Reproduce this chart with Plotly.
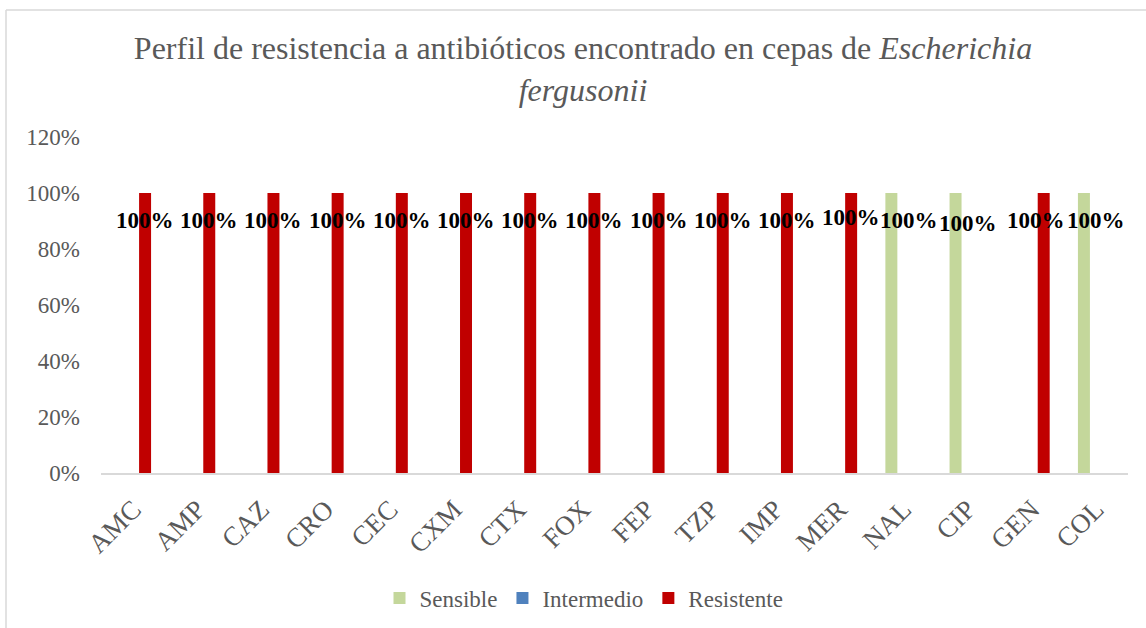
import plotly.graph_objects as go

categories = ["AMC", "AMP", "CAZ", "CRO", "CEC", "CXM", "CTX", "FOX", "FEP",
              "TZP", "IMP", "MER", "NAL", "CIP", "GEN", "COL"]
sensible = [0, 0, 0, 0, 0, 0, 0, 0, 0, 0, 0, 0, 1, 1, 0, 1]
intermedio = [0] * 16
resistente = [1, 1, 1, 1, 1, 1, 1, 1, 1, 1, 1, 1, 0, 0, 1, 0]
series_names = ["Sensible", "Intermedio", "Resistente"]
colors = ["#C4D79B", "#4F81BD", "#C00000"]

# manual label nudges (pixels) as in the original chart
label_nudge = {"MER": (0, 3), "NAL": (18, 0), "CIP": (12, -3), "GEN": (-8, 0), "COL": (12, 0)}

W, H = 1146, 628
L, R, T, B = 101, 18, 137, 155
pw, ph = W - L - R, H - T - B
BARGAP = 0.44
bar_px = pw / len(categories) * (1 - BARGAP) / 3

fig = go.Figure()
all_series = [sensible, intermedio, resistente]
for name, vals, col in zip(series_names, all_series, colors):
    fig.add_trace(go.Bar(
        name=name, x=categories, y=vals, marker_color=col,
        marker_line_width=0,
    ))

# data labels (value labels just below the top of each non-zero bar)
for si, vals in enumerate(all_series):
    for cat, v in zip(categories, vals):
        if v:
            dx, dy = label_nudge.get(cat, (0, 0))
            fig.add_annotation(
                x=cat, y=v, xref="x", yref="y", text=f"{v:.0%}",
                showarrow=False, xshift=(si - 1) * bar_px + dx, yshift=-27 + dy,
                yanchor="middle", xanchor="center",
                font=dict(family="Liberation Serif", size=23, color="black", weight="bold"),
            )

def px_x(x):
    return (x - L) / pw

def px_y(y):
    return (H - B - y) / ph

# outer chart frame (top and left edges visible)
fig.add_shape(type="line", xref="paper", yref="paper",
              x0=px_x(6), x1=px_x(W + 5), y0=px_y(10), y1=px_y(10),
              line=dict(color="#D9D9D9", width=1.5))
fig.add_shape(type="line", xref="paper", yref="paper",
              x0=px_x(6), x1=px_x(6), y0=px_y(10), y1=px_y(H + 5),
              line=dict(color="#D9D9D9", width=1.5))

fig.update_layout(
    width=W, height=H,
    margin=dict(l=L, r=R, t=T, b=B, autoexpand=False),
    paper_bgcolor="white", plot_bgcolor="white",
    barmode="group", bargap=BARGAP, bargroupgap=0,
    font=dict(family="Liberation Serif", color="#595959"),
    title=dict(
        text="Perfil de resistencia a antibióticos encontrado en cepas de <i>Escherichia</i><br><i>fergusonii</i>",
        x=583 / W, xref="container", xanchor="center",
        y=1 - 59 / H, yref="container", yanchor="middle",
        font=dict(family="Liberation Serif", size=32, color="#595959"),
    ),
    legend=dict(orientation="h", x=584 / W, xref="container", xanchor="center",
                y=px_y(598), yanchor="middle",
                font=dict(family="Liberation Serif", size=23, color="#595959"),
                itemwidth=30, traceorder="normal"),
    xaxis=dict(showline=True, linecolor="#D9D9D9", linewidth=1.5,
               showgrid=False, ticks="", tickangle=-45,
               tickfont=dict(family="Liberation Serif", size=27, color="#595959"),
               ticklabelstandoff=8),
    yaxis=dict(range=[0, 1.2], dtick=0.2, tickformat=".0%", showgrid=False,
               zeroline=False, showline=False, ticks="",
               tickfont=dict(family="Liberation Serif", size=23, color="#595959"),
               ticklabelstandoff=20),
)

fig.write_html("out.html", config={"displayModeBar": False},
               post_script="document.body.style.margin='0';")
